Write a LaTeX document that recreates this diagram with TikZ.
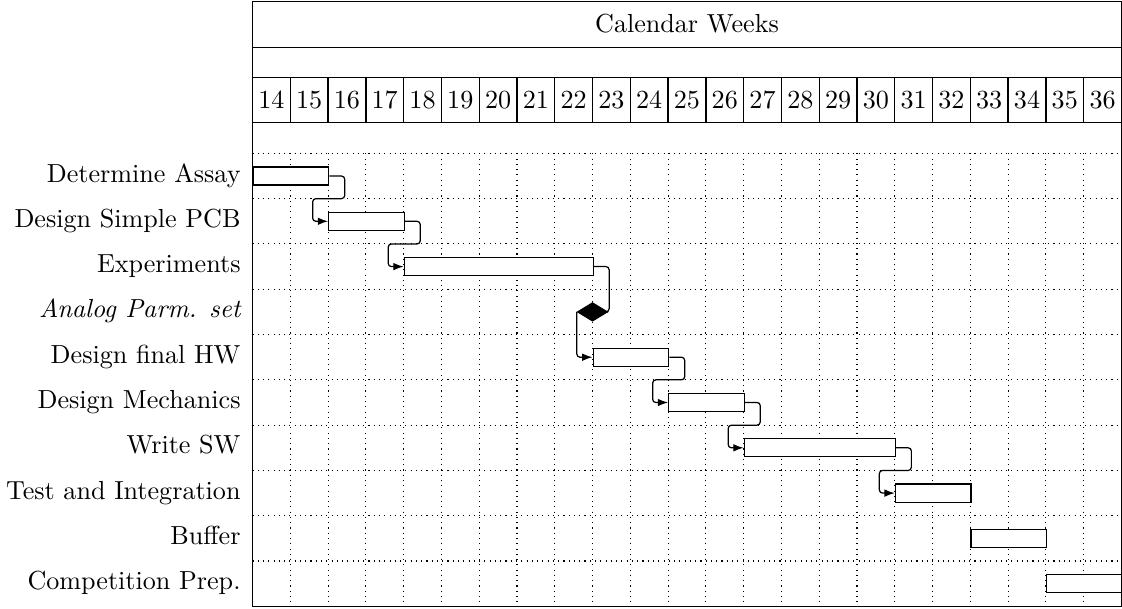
\documentclass[tikz,border=0pt]{standalone}
\usetikzlibrary{calc,arrows.meta,shapes.geometric}
\begin{document}
\begin{tikzpicture}[x=0.408pt,y=-0.408pt,
  font=\fontsize{10.65}{13}\selectfont,
  frameline/.style={line width=0.55pt},
  gridline/.style={line width=0.45pt,dash pattern=on 0.45pt off 1.7pt},
  barbox/.style={draw,fill=white,line width=0.5pt,inner sep=0pt,minimum height=7.4pt,anchor=west},
  msbox/.style={diamond,draw,fill=black,inner sep=0pt,minimum width=12.4pt,minimum height=7.6pt},
  tasklabel/.style={anchor=base east,inner sep=0pt},
  wklabel/.style={inner sep=0pt},
  link/.style={line width=0.5pt,rounded corners=1.3pt,-{Latex[length=4.2pt,width=3.1pt]}}]
\useasboundingbox (0,0) rectangle (1122,608);
% grid
\foreach \i in {0,...,9}
  \draw[gridline] (252.5,{153.3+45.3*\i}) -- (1121.5,{153.3+45.3*\i});
\foreach \i in {1,...,22}
  \draw[gridline] ({252.5+37.78*\i},153.3) -- ({252.5+37.78*\i},606.3);
% frame
\draw[frameline] (252.5,1.5) rectangle (1121.5,606.3);
\draw[frameline] (252.5,47.3) -- (1121.5,47.3);
\draw[frameline] (252.5,77.3) -- (1121.5,77.3);
\draw[frameline] (252.5,122.7) -- (1121.5,122.7);
\foreach \i in {1,...,22}
  \draw[frameline] ({252.5+37.78*\i},77.3) -- ({252.5+37.78*\i},122.7);
% titles
\node[wklabel] (title) at (687,24) {Calendar Weeks};
\foreach \w [count=\i from 0] in {14,...,36}
  \node[wklabel] (w\w) at ({252.5+37.78*(\i+0.5)},100) {\w};
% task labels
\node[tasklabel] (l1) at (241,182) {Determine Assay};
\node[tasklabel] (l2) at (241,227.3) {Design Simple PCB};
\node[tasklabel] (l3) at (241,272.6) {Experiments};
\node[tasklabel] (l4) at (241,317.9) {\itshape Analog Parm. set};
\node[tasklabel] (l5) at (241,363.2) {Design final HW};
\node[tasklabel] (l6) at (241,408.5) {Design Mechanics};
\node[tasklabel] (l7) at (241,453.8) {Write SW};
\node[tasklabel] (l8) at (241,499.1) {Test and Integration};
\node[tasklabel] (l9) at (241,544.4) {Buffer};
\node[tasklabel] (l10) at (241,589.7) {Competition Prep.};
% bars
\node[barbox,minimum width=30.83pt] (b1) at (252.5,176.0) {};
\node[barbox,minimum width=30.83pt] (b2) at (328.06,221.3) {};
\node[barbox,minimum width=77.07pt] (b3) at (403.62,266.6) {};
\node[msbox] (ms) at (592.5,311.9) {};
\node[barbox,minimum width=30.83pt] (b5) at (592.5,357.2) {};
\node[barbox,minimum width=30.83pt] (b6) at (668.06,402.5) {};
\node[barbox,minimum width=61.66pt] (b7) at (743.62,447.8) {};
\node[barbox,minimum width=30.83pt] (b8) at (894.74,493.1) {};
\node[barbox,minimum width=30.83pt] (b9) at (970.3,538.4) {};
\node[barbox,minimum width=30.83pt] (b10) at (1045.86,583.7) {};
% links
\draw[link] (b1.east) -- ++(15.4,0) -- ++(0,22.65) -| ($(b2.west)+(-15.4,0)$) -- (b2.west);
\draw[link] (b2.east) -- ++(15.4,0) -- ++(0,22.65) -| ($(b3.west)+(-15.4,0)$) -- (b3.west);
\draw[line width=0.5pt,rounded corners=1.3pt] (b3.east) -- ++(15.4,0) |- (ms.east);
\draw[link] (ms.west) |- (b5.west);
\draw[link] (b5.east) -- ++(15.4,0) -- ++(0,22.65) -| ($(b6.west)+(-15.4,0)$) -- (b6.west);
\draw[link] (b6.east) -- ++(15.4,0) -- ++(0,22.65) -| ($(b7.west)+(-15.4,0)$) -- (b7.west);
\draw[link] (b7.east) -- ++(15.4,0) -- ++(0,22.65) -| ($(b8.west)+(-15.4,0)$) -- (b8.west);
\end{tikzpicture}
\end{document}
